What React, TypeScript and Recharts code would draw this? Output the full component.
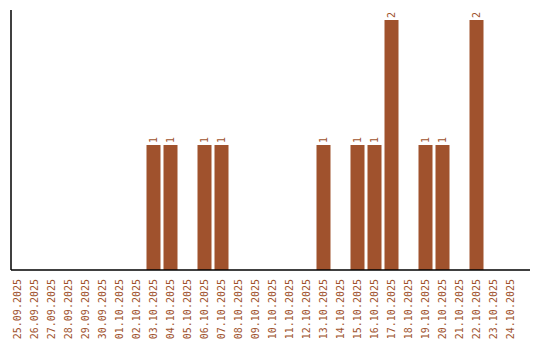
import { BarChart, Bar, XAxis, YAxis, LabelList } from 'recharts';

const dates = [
  '25.09.2025', '26.09.2025', '27.09.2025', '28.09.2025', '29.09.2025', '30.09.2025',
  '01.10.2025', '02.10.2025', '03.10.2025', '04.10.2025', '05.10.2025', '06.10.2025',
  '07.10.2025', '08.10.2025', '09.10.2025', '10.10.2025', '11.10.2025', '12.10.2025',
  '13.10.2025', '14.10.2025', '15.10.2025', '16.10.2025', '17.10.2025', '18.10.2025',
  '19.10.2025', '20.10.2025', '21.10.2025', '22.10.2025', '23.10.2025', '24.10.2025',
];
const counts = [0, 0, 0, 0, 0, 0, 0, 0, 1, 1, 0, 1, 1, 0, 0, 0, 0, 0, 1, 0, 1, 1, 2, 0, 1, 1, 0, 2, 0, 0];

const data = dates.map((d, i) => ({ date: d, count: counts[i] }));

const BROWN = '#a0522d';
const FONT = '"DejaVu Sans Mono", monospace';

const DateTick = (props: any) => {
  const { x, y, payload } = props;
  const ty = y + 1;
  return (
    <text
      x={x}
      y={ty}
      transform={`rotate(-90, ${x}, ${ty})`}
      textAnchor="end"
      dominantBaseline="central"
      fill={BROWN}
      fontSize={10}
      fontFamily={FONT}
    >
      {payload.value}
    </text>
  );
};

const ValueLabel = (props: any) => {
  const { x, y, width, value } = props;
  if (!value) return null;
  const cx = x + width / 2;
  const ty = y - 2;
  return (
    <text
      x={cx}
      y={ty}
      transform={`rotate(-90, ${cx}, ${ty})`}
      textAnchor="start"
      dominantBaseline="central"
      fill={BROWN}
      fontSize={10}
      fontFamily={FONT}
    >
      {value}
    </text>
  );
};

export default function App() {
  return (
    <div style={{ position: 'absolute', left: 0, top: 0, background: '#fff' }}>
      <BarChart width={540} height={340} data={data} margin={{ top: 10, right: 10, bottom: 0, left: 10 }}>
        <XAxis
          dataKey="date"
          interval={0}
          height={70}
          padding={{ left: -2.5, right: 11.5 }}
          tickLine={false}
          axisLine={{ stroke: '#000', strokeWidth: 1.5 }}
          tick={<DateTick />}
        />
        <YAxis
          width={1}
          domain={[0, 2.08]}
          tick={false}
          tickLine={false}
          axisLine={{ stroke: '#000', strokeWidth: 1.5 }}
        />
        <Bar dataKey="count" fill={BROWN} barSize={14} isAnimationActive={false}>
          <LabelList dataKey="count" content={<ValueLabel />} />
        </Bar>
      </BarChart>
    </div>
  );
}
